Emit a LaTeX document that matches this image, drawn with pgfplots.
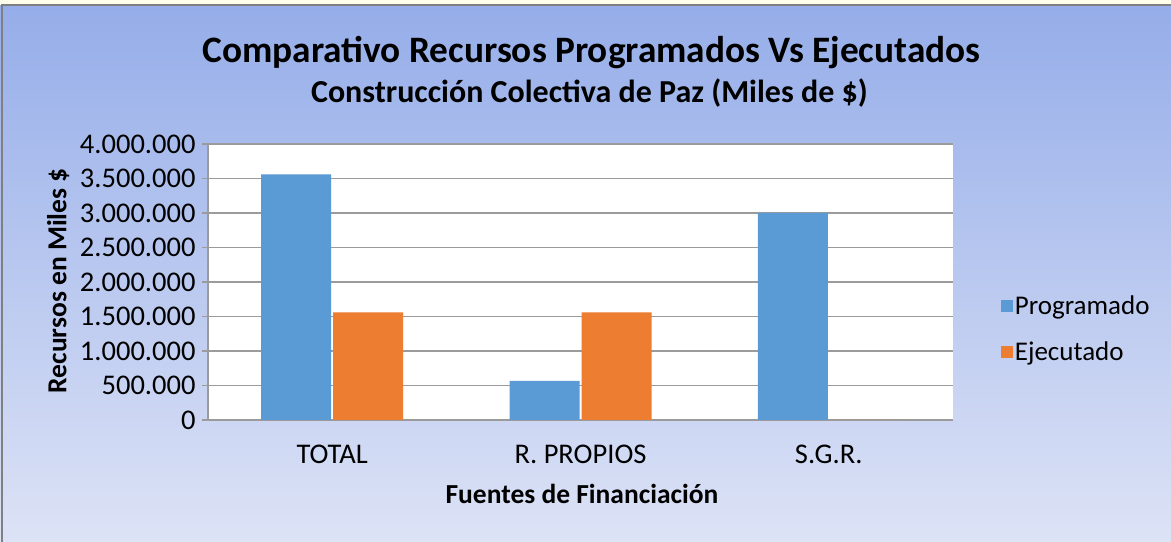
\documentclass[border=0pt]{standalone}
\usepackage{fontspec}
\setmainfont{Carlito}
\usepackage{pgfplots}
\pgfplotsset{compat=1.18}

\definecolor{prog}{HTML}{5B9BD5}
\definecolor{ejec}{HTML}{ED7D31}
\definecolor{bgtop}{RGB}{149,173,233}
\definecolor{bgbot}{RGB}{221,227,246}
\definecolor{gridc}{RGB}{155,155,155}

\begin{document}
\begin{tikzpicture}
\useasboundingbox (0,0) rectangle (1171bp,542bp);
% chart background
\shade[top color=bgtop, bottom color=bgbot] (0,0) rectangle (1171bp,537bp);
\fill[white!92!yellow] (0,537bp) rectangle (1171bp,542bp);
\draw[gray, line width=1.5bp] (2bp,0) -- (2bp,537bp) -- (1171bp,537bp);

\begin{axis}[
    at={(208bp,122bp)}, anchor=south west,
    scale only axis, clip=false,
    width=745bp, height=276bp,
    ybar, bar width=70bp,
    xmin=-0.5, xmax=2.5,
    ymin=0, ymax=4000000,
    ytick={0,500000,...,4000000},
    xtick={0,1,2},
    xticklabels={TOTAL, R. PROPIOS, S.G.R.},
    axis x line*=bottom, axis y line*=left,
    axis line style={draw=gridc, line width=1.8bp},
    ymajorgrids, grid style={draw=gridc, line width=1.8bp},
    major tick style={draw=gridc, line width=1.8bp},
    xtick style={draw=none},
    tick align=outside, major tick length=6bp,
    axis background/.style={fill=white},
    scaled y ticks=false,
    /pgf/number format/.cd, fixed, 1000 sep={.}, assume math mode=true,
    /pgfplots/.cd,
    tick label style={font=\fontsize{28.5bp}{33bp}\selectfont},
    yticklabel style={xshift=-3bp},
    xticklabel style={yshift=-15bp},
    title={Comparativo Recursos Programados Vs Ejecutados},
    title style={font=\fontsize{37.3bp}{42bp}\selectfont\bfseries,
        at={(axis description cs:0.515,1.31)}, anchor=center},
    xlabel={Fuentes de Financiación},
    xlabel style={font=\fontsize{27.5bp}{32bp}\selectfont\bfseries,
        at={(axis description cs:0.502,-0.268)}, anchor=center},
    ylabel={Recursos en Miles \$},
    ylabel style={font=\fontsize{27.5bp}{32bp}\selectfont\bfseries,
        at={(axis description cs:-0.201,0.504)}, anchor=center},
    legend style={draw=none, fill=none, at={(axis description cs:1.06,0.33)},
        anchor=west, font=\fontsize{27bp}{32bp}\selectfont, row sep=22bp},
    legend cell align=left,
    legend image code/.code={\fill[#1] (0bp,-6bp) rectangle (12bp,6bp);},
]
\addplot[fill=prog, draw=none] coordinates {(0,3560000) (1,566000) (2,3000000)};
\addlegendentry{Programado}
\addplot[fill=ejec, draw=none] coordinates {(0,1560000) (1,1560000) (2,0)};
\addlegendentry{Ejecutado}
\node[font=\fontsize{32bp}{36bp}\selectfont\bfseries, anchor=center]
    at (axis description cs:0.512,1.183) {Construcción Colectiva de Paz (Miles de \$)};
\end{axis}
\end{tikzpicture}
\end{document}
